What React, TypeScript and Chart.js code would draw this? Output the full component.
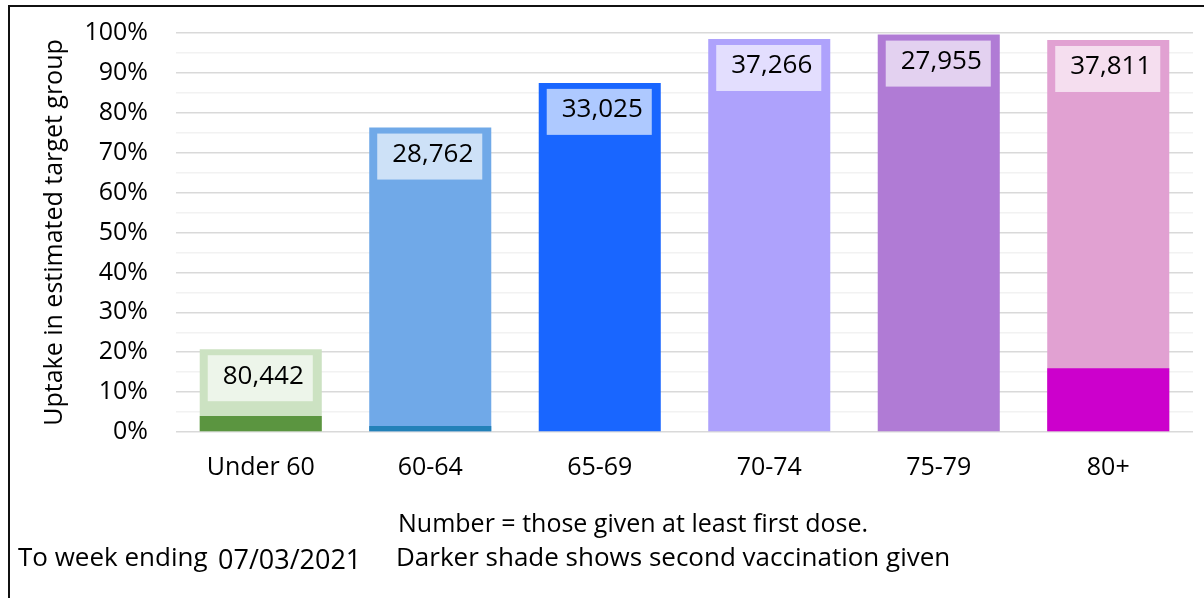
import React, { useEffect, useRef } from "react";
import { Chart, registerables } from "chart.js";

Chart.register(...registerables);

const categories = ["Under 60", "60-64", "65-69", "70-74", "75-79", "80+"];
const firstDosePct = [20.75, 76.3, 87.5, 98.5, 99.6, 98.25];
const secondDosePct = [4.0, 1.5, 0, 0.2, 0, 16.0];
const firstDoseLabels = ["80,442", "28,762", "33,025", "37,266", "27,955", "37,811"];
const lightColors = ["#CCE2C2", "#70A9E8", "#1966FF", "#AEA2FC", "#B07BD5", "#E1A1D2"];
const darkColors = ["#5B9540", "#2381B8", "#0047C9", "#8F7FF0", "#8A4FB8", "#CC00CC"];
const yTickValues = [0, 10, 20, 30, 40, 50, 60, 70, 80, 90, 100];

const FONT = "'Open Sans', 'Noto Sans', sans-serif";

const labelBoxPlugin = {
  id: "labelBoxes",
  afterDatasetsDraw(chart: any) {
    const meta = chart.getDatasetMeta(1);
    const ctx = chart.ctx;
    ctx.save();
    meta.data.forEach((bar: any, i: number) => {
      const left = bar.x - bar.width / 2 + 8;
      const top = bar.y + 6;
      const w = bar.width - 17;
      const h = 46;
      ctx.fillStyle = "rgba(255,255,255,0.65)";
      ctx.fillRect(left, top, w, h);
      ctx.fillStyle = "#000";
      ctx.font = `26px ${FONT}`;
      ctx.textAlign = "center";
      ctx.textBaseline = "middle";
      ctx.fillText(firstDoseLabels[i], left + w / 2 + 3, top + h / 2 - 2);
    });
    ctx.restore();
  },
};

export default function App() {
  const canvasRef = useRef<HTMLCanvasElement | null>(null);

  useEffect(() => {
    const canvas = canvasRef.current;
    if (!canvas) return;
    const chart = new Chart(canvas, {
      type: "bar",
      data: {
        labels: categories,
        datasets: [
          {
            label: "Second dose",
            data: secondDosePct,
            backgroundColor: darkColors,
            borderWidth: 0,
            categoryPercentage: 1,
            barPercentage: 0.72,
          },
          {
            label: "First dose",
            data: firstDosePct,
            backgroundColor: lightColors,
            borderWidth: 0,
            categoryPercentage: 1,
            barPercentage: 0.72,
          },
        ],
      },
      options: {
        responsive: false,
        animation: false,
        devicePixelRatio: 1,
        layout: { padding: { top: 33, right: 11, bottom: 98, left: 0 } },
        plugins: {
          legend: { display: false },
          tooltip: { enabled: false },
          title: { display: false },
        },
        scales: {
          x: {
            stacked: true,
            grid: { display: false, drawTicks: false },
            border: { display: false },
            ticks: {
              color: "#000",
              font: { family: FONT, size: 25 },
              padding: 21,
              maxRotation: 0,
              autoSkip: false,
            },
            afterFit: (s: any) => {
              s.height = 68;
              s.paddingLeft = 0;
              s.paddingRight = 0;
            },
          },
          y: {
            stacked: false,
            min: 0,
            max: 100,
            afterBuildTicks: (s: any) => {
              const t: any[] = [];
              for (let v = 0; v <= 100; v += 5) t.push({ value: v });
              s.ticks = t;
            },
            ticks: {
              color: "#000",
              font: { family: FONT, size: 25 },
              padding: 28,
              autoSkip: false,
              callback: (v: any) => (yTickValues.includes(Number(v)) ? `${v}%` : ""),
            },
            grid: {
              drawTicks: false,
              lineWidth: 1.5,
              color: (c: any) =>
                c.tick && c.tick.value % 10 === 0 ? "#d9d9d9" : "#f2f2f2",
            },
            border: { display: false },
            title: {
              display: true,
              text: "Uptake in estimated target group",
              color: "#000",
              font: { family: FONT, size: 25 },
              padding: { top: 40, bottom: 0 },
            },
            afterFit: (s: any) => {
              s.width = 176;
              s.paddingTop = 0;
              s.paddingBottom = 0;
            },
          },
        },
      },
      plugins: [labelBoxPlugin],
    });
    return () => chart.destroy();
  }, []);

  const textStyle: React.CSSProperties = {
    position: "absolute",
    fontFamily: FONT,
    fontSize: 25,
    lineHeight: "30px",
    color: "#000",
    whiteSpace: "nowrap",
  };

  return (
    <div
      style={{
        position: "fixed",
        left: 0,
        top: 0,
        width: 1204,
        height: 598,
        overflow: "hidden",
        background: "#fff",
      }}
    >
      <div
        style={{
          position: "absolute",
          left: 8,
          top: 5,
          width: 1400,
          height: 800,
          border: "2px solid #111",
          boxSizing: "border-box",
        }}
      />
      <canvas
        ref={canvasRef}
        width={1204}
        height={598}
        style={{ position: "absolute", left: 0, top: 0, width: 1204, height: 598 }}
      />
      <div style={{ ...textStyle, left: 398, top: 507 }}>
        Number = those given at least first dose.
      </div>
      <div style={{ ...textStyle, fontSize: 26, left: 18, top: 541 }}>To week ending</div>
      <div style={{ ...textStyle, fontSize: 27, left: 218, top: 544 }}>07/03/2021</div>
      <div style={{ ...textStyle, fontSize: 26, left: 396, top: 541 }}>
        Darker shade shows second vaccination given
      </div>
    </div>
  );
}
